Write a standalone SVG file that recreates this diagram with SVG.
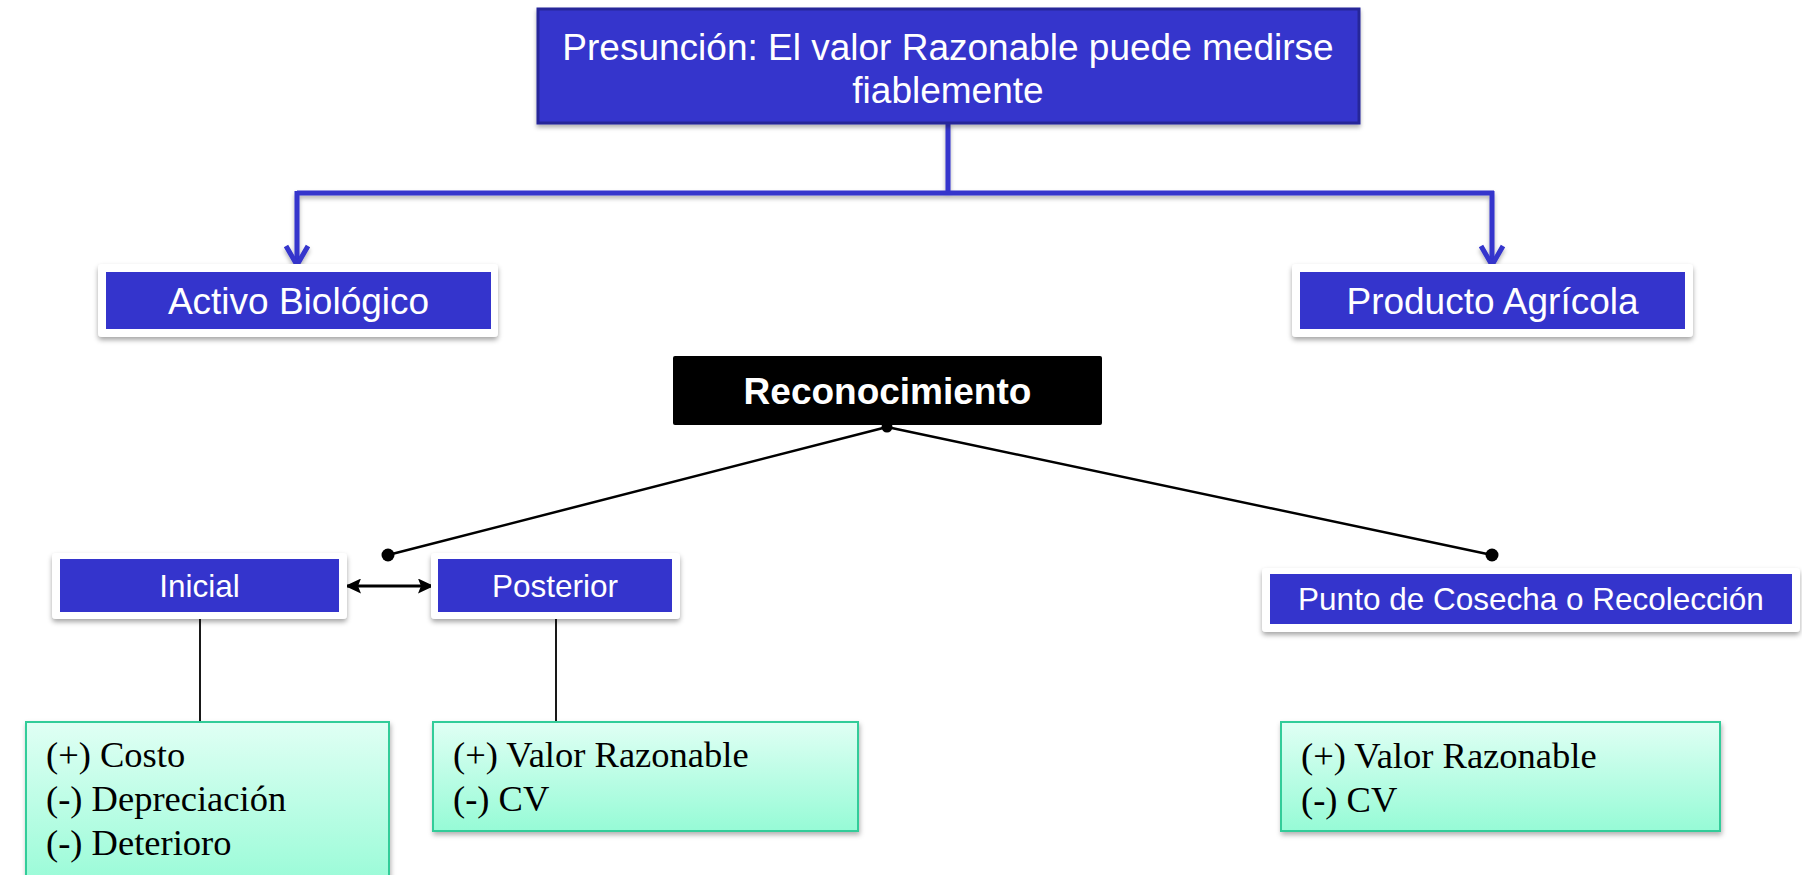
<svg xmlns="http://www.w3.org/2000/svg" width="1802" height="875" viewBox="0 0 1802 875">
<defs>
<style>
.blue{fill:#3434cc;}
.frame{fill:#ffffff;filter:url(#sh);}
.wt{font-family:"Liberation Sans",Arial,sans-serif;fill:#ffffff;text-anchor:middle;}
.big{font-size:37px;}
.mid{font-size:31.5px;}
.bold{font-weight:bold;}
.tm{font-family:"Liberation Serif","Times New Roman",serif;font-size:36.5px;fill:#000000;}
.green{fill:url(#gg);stroke:#33cc99;stroke-width:2;filter:url(#sh2);}
.bl{fill:none;stroke:#3434cc;stroke-width:5;stroke-linejoin:miter;}
.k{fill:none;stroke:#000000;stroke-width:2.5;}
.kv{fill:none;stroke:#000000;stroke-width:1.8;}
</style>
<linearGradient id="gg" x1="0" y1="0" x2="0" y2="1">
<stop offset="0" stop-color="#e0fff4"/>
<stop offset="1" stop-color="#96fbd6"/>
</linearGradient>
<filter id="sh" x="-10%" y="-20%" width="120%" height="150%">
<feDropShadow dx="0" dy="3" stdDeviation="2.5" flood-color="#000000" flood-opacity="0.35"/>
</filter>
<filter id="sh2" x="-10%" y="-10%" width="120%" height="130%">
<feDropShadow dx="1" dy="3" stdDeviation="2.5" flood-color="#000000" flood-opacity="0.3"/>
</filter>
<filter id="sh3" x="-5%" y="-20%" width="110%" height="160%">
<feDropShadow dx="0" dy="3" stdDeviation="2" flood-color="#000000" flood-opacity="0.3"/>
</filter>
<marker id="ah" viewBox="0 0 16 15" refX="15" refY="7.5" markerWidth="16" markerHeight="15" orient="auto-start-reverse" markerUnits="userSpaceOnUse">
<path d="M0,0 L16,7.5 L0,15 L3,7.5 z" fill="#000000"/>
</marker>
</defs>

<g id="connectors">
<g filter="url(#sh3)">
<path class="bl" d="M948,123 V193 M297,193 H1494 M297,191 V265 M1492,191 V265"/>
<path class="bl" d="M286,246 L297,265 L308,246 M1481,246 L1492,265 L1503,246"/>
</g>
<path class="k" d="M887,427 L388,555 M887,427 L1492,555"/>
<circle cx="887" cy="427" r="5.5" fill="#000000"/>
<circle cx="388" cy="555" r="6.5" fill="#000000"/>
<circle cx="1492" cy="555" r="6.5" fill="#000000"/>
<line class="k" x1="346" y1="586" x2="433" y2="586" marker-start="url(#ah)" marker-end="url(#ah)" style="stroke-width:3"/>
<path class="kv" d="M200,619 V722 M556,619 V722"/>
</g>

<g id="presuncion">
<rect x="538" y="9" width="821" height="114" fill="#3434cc" stroke="#272799" stroke-width="3" filter="url(#sh3)"/>
<text class="wt big" x="948" y="60">Presunción: El valor Razonable puede medirse</text>
<text class="wt big" x="948" y="103">fiablemente</text>
</g>

<g id="activo">
<rect class="frame" x="98" y="264" width="400" height="73" rx="4"/>
<rect class="blue" x="106" y="272" width="385" height="57"/>
<text class="wt big" x="298.5" y="314">Activo Biológico</text>
</g>

<g id="producto">
<rect class="frame" x="1292" y="264" width="401" height="73" rx="4"/>
<rect class="blue" x="1300" y="272" width="385" height="57"/>
<text class="wt big" x="1492.5" y="314">Producto Agrícola</text>
</g>

<g id="reconocimiento">
<rect x="673" y="356" width="429" height="69" rx="2" fill="#000000"/>
<text class="wt big bold" x="887.5" y="404">Reconocimiento</text>
</g>

<g id="inicial">
<rect class="frame" x="52" y="553" width="295" height="66" rx="4"/>
<rect class="blue" x="60" y="559" width="279" height="53"/>
<text class="wt mid" x="199.5" y="597">Inicial</text>
</g>

<g id="posterior">
<rect class="frame" x="431" y="553" width="249" height="66" rx="4"/>
<rect class="blue" x="438" y="559" width="234" height="53"/>
<text class="wt mid" x="555" y="597">Posterior</text>
</g>

<g id="cosecha">
<rect class="frame" x="1262" y="568" width="538" height="64" rx="4"/>
<rect class="blue" x="1270" y="574" width="522" height="50"/>
<text class="wt mid" x="1531" y="610">Punto de Cosecha o Recolección</text>
</g>

<g id="costo">
<rect class="green" x="26" y="722" width="363" height="170"/>
<text class="tm" x="46" y="767">(+) Costo</text>
<text class="tm" x="46" y="811">(-) Depreciación</text>
<text class="tm" x="46" y="855">(-) Deterioro</text>
</g>

<g id="valor-posterior">
<rect class="green" x="433" y="722" width="425" height="109"/>
<text class="tm" x="453" y="767">(+) Valor Razonable</text>
<text class="tm" x="453" y="811">(-) CV</text>
</g>

<g id="valor-cosecha">
<rect class="green" x="1281" y="722" width="439" height="109"/>
<text class="tm" x="1301" y="768">(+) Valor Razonable</text>
<text class="tm" x="1301" y="812">(-) CV</text>
</g>
</svg>
